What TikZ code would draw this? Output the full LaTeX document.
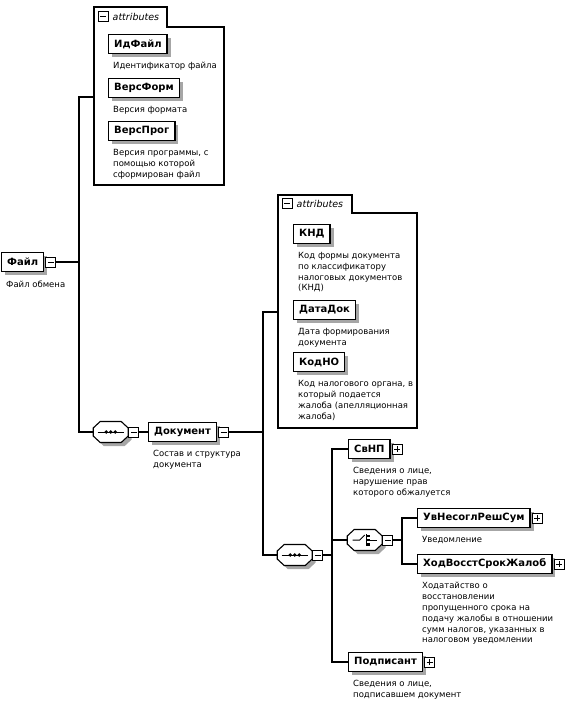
\documentclass[tikz,border=0pt]{standalone}
\usepackage{fontspec}
\setmainfont{DejaVu Sans}
\usetikzlibrary{positioning, shadows}

\begin{document}
\begin{tikzpicture}[
	x=1pt, y=-1pt,
	elem/.style={
		draw, fill=white, line width=1.4pt,
		font=\fontsize{10}{12}\selectfont\bfseries,
		minimum height=19pt, inner xsep=5.5pt,
		drop shadow={shadow xshift=3.5pt, shadow yshift=-3.5pt, fill=gray!70, opacity=1}
	},
	desc/.style={
		font=\fontsize{8.5}{10.8}\selectfont,
		align=left, inner sep=0pt
	},
	attr/.style={
		font=\fontsize{9.5}{11}\selectfont\itshape,
		inner sep=0pt
	},
	frame/.style={
		draw, line width=1.1pt
	},
	link/.style={
		draw, line width=1.1pt
	},
	minusbox/.style={
		draw, fill=white, line width=1pt,
		minimum size=10pt, inner sep=0pt,
		path picture={
			\draw[line width=1pt] ([xshift=2pt]path picture bounding box.west) -- ([xshift=-2pt]path picture bounding box.east);
		}
	},
	plusbox/.style={
		minusbox,
		path picture={
			\draw[line width=1pt] ([xshift=2pt]path picture bounding box.west) -- ([xshift=-2pt]path picture bounding box.east);
			\draw[line width=1pt] ([yshift=-2pt]path picture bounding box.north) -- ([yshift=2pt]path picture bounding box.south);
		}
	},
	comp/.style={
		minimum width=35pt, minimum height=21pt, inner sep=0pt
	},
	compshape/.pic={
		\fill[gray!70, shift={(3.5,3.5)}] (-10.5,-10.5) -- (10.5,-10.5) -- (17.5,-4) -- (17.5,4) -- (10.5,10.5) -- (-10.5,10.5) -- (-17.5,4) -- (-17.5,-4) -- cycle;
		\draw[fill=white, line width=1.1pt] (-10.5,-10.5) -- (10.5,-10.5) -- (17.5,-4) -- (17.5,4) -- (10.5,10.5) -- (-10.5,10.5) -- (-17.5,4) -- (-17.5,-4) -- cycle;
	},
	seqsym/.pic={
		\pic {compshape};
		\draw[line width=1pt] (-13,0) -- (13,0);
		\foreach \dx in {-4.5,0,4.5}
			\fill (\dx,0) circle (1.9);
	},
	choicesym/.pic={
		\pic {compshape};
		\draw[line width=1pt] (-12,0) -- (-5,0) -- (0,-5);
		\draw[line width=1pt] (2,-6) -- (2,6);
		\foreach \dy in {-5.5,-1.25,3}
			\fill (2,\dy) rectangle ++(3,2.5);
		\draw[line width=1pt] (5,0) -- (12,0);
	}
	]
	\useasboundingbox (0,0) rectangle (565,708);

	% root
	\node[elem, anchor=west] (fajl) at (1,262) {Файл};
	\node[minusbox, right=1pt of fajl] (fajlm) {};
	\node[desc, below right=8pt and 5pt of fajl.south west] (fajld) {Файл обмена};

	% attributes of Файл
	\draw[frame] (94,7) -- (167,7) -- (167,27) -- (224,27) -- (224,185) -- (94,185) -- cycle;
	\node[minusbox] (att1m) at (103,17) {};
	\node[attr, right=4pt of att1m] (att1t) {attributes};
	\coordinate (att1) at (94,97);

	\node[elem, anchor=west] (idf) at (108,44) {ИдФайл};
	\node[desc, below right=8pt and 5pt of idf.south west] (idfd) {Идентификатор файла};
	\node[elem, anchor=west] (verf) at (108,88) {ВерсФорм};
	\node[desc, below right=8pt and 5pt of verf.south west] (verfd) {Версия формата};
	\node[elem, anchor=west] (verp) at (108,131) {ВерсПрог};
	\node[desc, below right=8pt and 5pt of verp.south west] (verpd) {Версия программы, с\\помощью которой\\сформирован файл};

	% Документ
	\node[comp, anchor=west] (seq1) at (93,432) {};
	\pic at (seq1) {seqsym};
	\node[minusbox, right=0pt of seq1] (seq1m) {};
	\node[elem, anchor=west] (dok) at (148,432) {Документ};
	\node[minusbox, right=1pt of dok] (dokm) {};
	\node[desc, below right=8pt and 5pt of dok.south west] (dokd) {Состав и структура\\документа};

	% attributes of Документ
	\draw[frame] (278,195) -- (352,195) -- (352,213) -- (417,213) -- (417,428) -- (278,428) -- cycle;
	\node[minusbox] (att2m) at (287,204) {};
	\node[attr, right=4pt of att2m] (att2t) {attributes};
	\coordinate (att2) at (278,312);

	\node[elem, anchor=west] (knd) at (293,234) {КНД};
	\node[desc, below right=8pt and 5pt of knd.south west] (kndd) {Код формы документа\\по классификатору\\налоговых документов\\(КНД)};
	\node[elem, anchor=west] (datd) at (293,310) {ДатаДок};
	\node[desc, below right=8pt and 5pt of datd.south west] (datdd) {Дата формирования\\документа};
	\node[elem, anchor=west] (kodno) at (293,362) {КодНО};
	\node[desc, below right=8pt and 5pt of kodno.south west] (kodnod) {Код налогового органа, в\\который подается\\жалоба (апелляционная\\жалоба)};

	% children of Документ
	\node[comp, anchor=west] (seq2) at (277,555) {};
	\pic at (seq2) {seqsym};
	\node[minusbox, right=0pt of seq2] (seq2m) {};

	\node[elem, anchor=west] (svnp) at (348,449) {СвНП};
	\node[plusbox, right=1pt of svnp] (svnpp) {};
	\node[desc, below right=8pt and 5pt of svnp.south west] (svnpd) {Сведения о лице,\\нарушение прав\\которого обжалуется};

	\node[comp, anchor=west] (ch) at (347,540) {};
	\pic at (ch) {choicesym};
	\node[minusbox, right=0pt of ch] (chm) {};

	\node[elem, anchor=west] (uvn) at (417,518) {УвНесоглРешСум};
	\node[plusbox, right=1pt of uvn] (uvnp) {};
	\node[desc, below right=8pt and 5pt of uvn.south west] (uvnd) {Уведомление};
	\node[elem, anchor=west] (hod) at (417,564) {ХодВосстСрокЖалоб};
	\node[plusbox, right=1pt of hod] (hodp) {};
	\node[desc, below right=8pt and 5pt of hod.south west] (hodd) {Ходатайство о\\восстановлении\\пропущенного срока на\\подачу жалобы в отношении\\сумм налогов, указанных в\\налоговом уведомлении};

	\node[elem, anchor=west] (podp) at (348,662) {Подписант};
	\node[plusbox, right=1pt of podp] (podpp) {};
	\node[desc, below right=8pt and 5pt of podp.south west] (podpd) {Сведения о лице,\\подписавшем документ};

	% junctions
	\coordinate (j1) at (79,262);
	\coordinate (j2) at (263,432);
	\coordinate (j3) at (332,555);
	\coordinate (j4) at (402,540);

	% connectors
	\draw[link] (fajlm) -- (j1);
	\draw[link] (att1) -| (j1) |- (seq1);
	\draw[link] (seq1m) -- (dok);
	\draw[link] (dokm) -- (j2);
	\draw[link] (att2) -| (j2) |- (seq2);
	\draw[link] (seq2m) -- (j3);
	\draw[link] (svnp) -| (j3) |- (podp);
	\draw[link] (ch) -| (j3);
	\draw[link] (chm) -- (j4);
	\draw[link] (uvn) -| (j4) |- (hod);
\end{tikzpicture}
\end{document}
